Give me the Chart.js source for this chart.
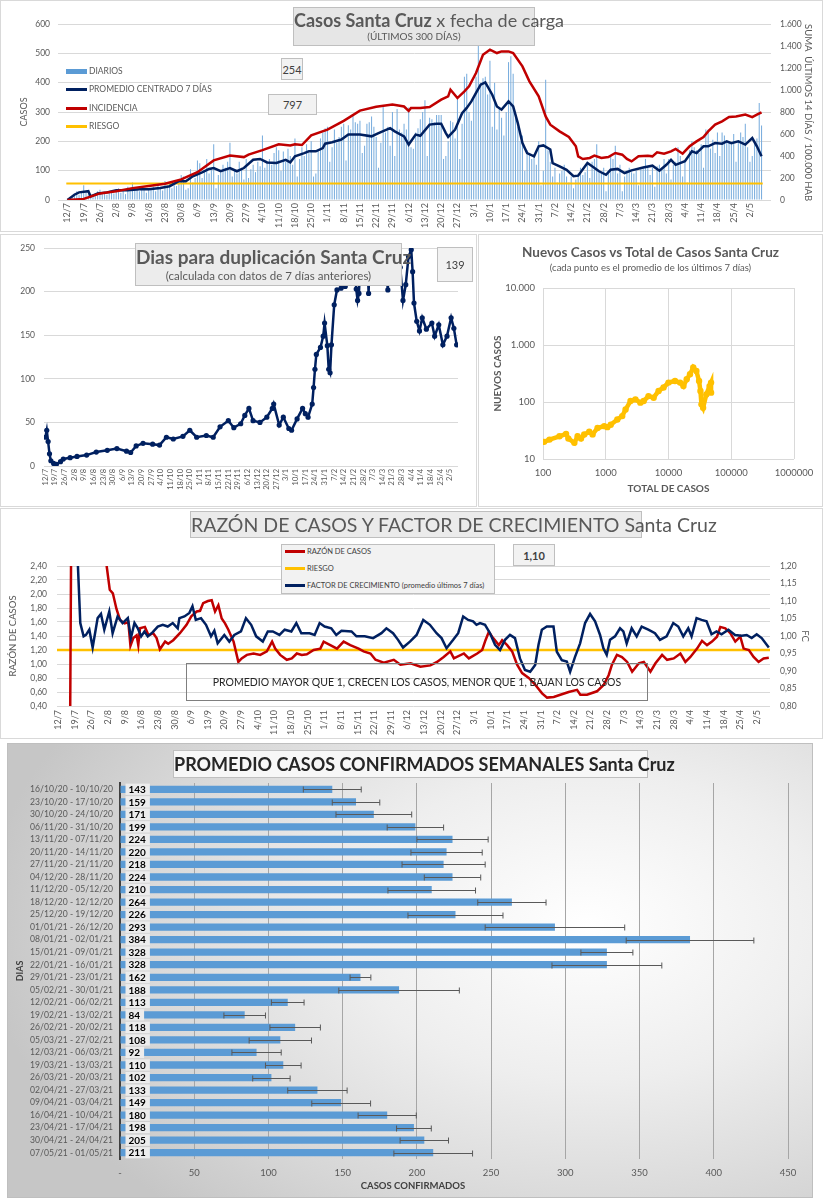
<!DOCTYPE html>
<html>
<head>
<meta charset="utf-8">
<script src="https://cdn.jsdelivr.net/npm/chart.js@4.4.1/dist/chart.umd.min.js"></script>
<style>
body { margin: 0; background: #fff; font-family: Lato, sans-serif; }
#page { position: relative; width: 823px; height: 1200px; overflow: hidden; }
.panel { position: absolute; box-sizing: border-box; border: 1px solid #d9d9d9; }
canvas { position: absolute; }
.box { position: absolute; box-sizing: border-box; background: #f2f2f2; border: 1px solid #bfbfbf; color: #404040;
       text-align: center; display: flex; flex-direction: column; justify-content: center; white-space: nowrap; }
.leg { position: absolute; font-size: 8.5px; color: #595959; display: flex; align-items: center; white-space: nowrap; height: 10px; }
.leg i { display: inline-block; width: 21px; height: 3px; margin-right: 2px; }
.txt { position: absolute; white-space: nowrap; color: #595959; text-align: center; }
</style>
</head>
<body>
<div id="page">
  <div class="panel" style="left:0;top:0;width:823px;height:232px"></div>
  <div class="panel" style="left:0;top:234px;width:477px;height:273px"></div>
  <div class="panel" style="left:478px;top:234px;width:345px;height:273px"></div>
  <div class="panel" style="left:0;top:508px;width:823px;height:231px"></div>
  <div class="panel" style="left:7px;top:743px;width:806px;height:455px;border-color:#bfbfbf;
       background:radial-gradient(ellipse 75% 85% at 72% 40%, #ffffff 0%, #eeeeee 40%, #d6d6d6 78%, #c6c6c6 100%)"></div>

  <canvas id="c1" width="823" height="231" style="left:0;top:0"></canvas>
  <canvas id="c2" width="476" height="272" style="left:0;top:234px"></canvas>
  <canvas id="c3" width="345" height="272" style="left:478px;top:234px"></canvas>
  <canvas id="c4" width="823" height="230" style="left:0;top:508px"></canvas>
  <canvas id="c5" width="823" height="460" style="left:0;top:740px"></canvas>

  <!-- grafico 1 -->
  <div class="box" style="left:293px;top:7px;width:242px;height:39px;background:#e6e6e6;color:#595959">
    <div style="font-size:18px;line-height:20px"><b>Casos Santa Cruz</b> x fecha de carga</div>
    <div style="font-size:10px;line-height:13px">(ÚLTIMOS 300 DÍAS)</div>
  </div>
  <div class="box" style="left:281px;top:58px;width:22px;height:22px;font-size:11px">254</div>
  <div class="box" style="left:268px;top:94px;width:49px;height:21px;font-size:11px">797</div>
  <div class="leg" style="left:66px;top:66px"><i style="background:#5b9bd5;height:5px"></i>DIARIOS</div>
  <div class="leg" style="left:66px;top:84px"><i style="background:#002060"></i>PROMEDIO CENTRADO 7 DÍAS</div>
  <div class="leg" style="left:66px;top:103px"><i style="background:#c00000"></i>INCIDENCIA</div>
  <div class="leg" style="left:66px;top:121px"><i style="background:#ffc000"></i>RIESGO</div>

  <!-- grafico 2 -->
  <div class="box" style="left:135px;top:243px;width:267px;height:43px;background:#ececec;color:#595959">
    <div style="font-size:19px;line-height:22px;font-weight:bold">Dias para duplicación Santa Cruz</div>
    <div style="font-size:11.5px;line-height:15px">(calculada con datos de 7 días anteriores)</div>
  </div>
  <div class="box" style="left:437px;top:247px;width:36px;height:35px;font-size:11px">139</div>

  <!-- grafico 3 -->
  <div class="txt" style="left:478px;top:244px;width:345px;font-size:13.5px;font-weight:bold">Nuevos Casos vs Total de Casos Santa Cruz</div>
  <div class="txt" style="left:478px;top:262px;width:345px;font-size:9.5px">(cada punto es el promedio de los últimos 7 días)</div>

  <!-- grafico 4 -->
  <div class="box" style="left:190px;top:511px;width:452px;height:27px;background:#ebebeb;color:#595959;font-size:19.5px">RAZÓN DE CASOS Y FACTOR DE CRECIMIENTO Santa Cruz</div>
  <div class="box" style="left:513px;top:544px;width:42px;height:22px;font-size:11px;font-weight:bold">1,10</div>
  <div class="box" style="left:281px;top:544px;width:214px;height:50px;background:#f2f2f2"></div>
  <div class="leg" style="left:285px;top:546px;font-size:7.5px;color:#404040"><i style="background:#c00000;width:20px"></i>RAZÓN DE CASOS</div>
  <div class="leg" style="left:285px;top:563px;font-size:7.5px;color:#404040"><i style="background:#ffc000;width:20px"></i>RIESGO</div>
  <div class="leg" style="left:285px;top:580px;font-size:7.5px;color:#404040"><i style="background:#002060;width:20px"></i>FACTOR DE CRECIMIENTO (promedio últimos 7 días)</div>
  <div class="box" style="left:186px;top:663px;width:462px;height:38px;background:transparent;border-color:#7f7f7f;color:#262626;font-size:10.5px">PROMEDIO MAYOR QUE 1, CRECEN LOS CASOS, MENOR QUE 1, BAJAN LOS CASOS</div>

  <!-- grafico 5 -->
  <div class="box" style="left:173px;top:750px;width:475px;height:28px;background:#f7f7f7;color:#262626;font-size:18px;font-weight:bold">PROMEDIO CASOS CONFIRMADOS SEMANALES Santa Cruz</div>
  <div class="txt" style="left:313px;top:1180px;width:200px;font-size:9.5px;font-weight:bold;color:#404040">CASOS CONFIRMADOS</div>
</div>

<script>
// etiquetas del eje de fechas (cada 7 días desde el 12/7)
const semanas = ['12/7','19/7','26/7','2/8','9/8','16/8','23/8','30/8','6/9','13/9','20/9','27/9','4/10','11/10',
  '18/10','25/10','1/11','8/11','15/11','22/11','29/11','6/12','13/12','20/12','27/12','3/1','10/1','17/1','24/1',
  '31/1','7/2','14/2','21/2','28/2','7/3','14/3','21/3','28/3','4/4','11/4','18/4','25/4','2/5'];

// casos diarios (300 días)
const diarios = [
  2,8,14,22,30,18,25, 50,28,20,10,15,22,30, 35,20,25,18,30,28,22, 30,40,25,35,20,45,30,
  60,35,40,30,38,42,25, 40,35,45,30,50,38,32, 65,45,55,40,50,48,60, 85,80,35,40,105,60,75,
  135,125,75,100,140,90,110, 190,40,85,95,120,110,130, 195,80,100,90,130,110,70, 140,75,105,120,95,130,115,
  220,110,130,140,120,160,180, 170,100,165,130,175,150,120, 210,80,140,180,150,190,160, 200,80,90,170,210,230,245,
  250,130,180,240,195,215,250, 260,135,255,240,290,265,260, 270,160,185,260,265,285,250, 215,110,195,320,230,250,185,
  300,150,310,240,230,260,240, 315,180,175,230,245,275,300, 340,150,280,275,265,290,290, 290,140,150,200,270,265,210,
  350,140,260,420,430,300,270, 350,420,525,400,415,420,360, 475,250,400,240,310,280,220, 300,470,490,430,300,250,200,
  220,100,170,160,140,150,120, 200,50,100,410,170,130,80, 110,60,90,100,120,80,60, 80,40,70,90,110,85,95,
  120,75,130,140,190,100,90, 110,30,100,150,140,185,90, 120,30,80,100,110,95,90, 100,50,110,110,140,110,85,
  110,45,115,120,110,140,90, 140,70,120,130,180,150,80, 130,60,170,200,180,170,160, 190,110,240,240,175,205,160,
  230,150,230,220,200,200,190, 225,130,200,230,215,260,180, 130,150,200,210,331,254
];

// [día, valor]
const promedio7 = [[0,0],[3,18],[5,26],[9,30],[10,12],[13,22],[17,26],[21,33],[26,33],[31,37],[35,37],[40,41],[44,47],
  [48,64],[51,64],[54,81],[58,94],[61,106],[63,109],[66,98],[70,109],[73,98],[76,109],[80,137],[83,140],[86,128],[90,126],
  [94,137],[96,128],[98,149],[102,160],[104,166],[107,166],[110,177],[111,192],[114,197],[118,206],[121,223],[126,223],
  [131,217],[134,228],[139,245],[141,234],[145,217],[147,189],[150,223],[152,219],[156,257],[159,260],[161,260],[163,228],
  [164,215],[167,240],[170,296],[172,314],[174,336],[176,365],[178,393],[180,401],[183,359],[185,319],[187,308],[190,336],
  [192,319],[194,262],[196,194],[198,160],[201,149],[203,183],[205,186],[208,172],[209,126],[212,115],[215,103],[218,81],
  [220,83],[224,126],[226,115],[229,98],[232,86],[234,103],[237,106],[240,92],[243,101],[248,111],[252,117],[255,100],
  [258,120],[260,137],[262,120],[266,132],[269,166],[271,160],[274,183],[276,183],[279,194],[282,192],[284,200],[286,194],
  [289,200],[292,189],[295,211],[297,183],[299,149]];

const incidencia = [[0,0],[7,10],[14,60],[21,80],[28,108],[35,128],[42,147],[49,187],[56,253],[63,360],[70,405],[76,390],
  [78,413],[84,453],[91,507],[96,495],[98,507],[101,500],[105,587],[112,640],[119,720],[126,813],[133,848],[140,867],
  [145,850],[147,810],[148,836],[152,836],[156,845],[161,912],[164,942],[165,1003],[168,927],[171,988],[173,1033],
  [176,1154],[179,1321],[182,1367],[185,1336],[187,1351],[190,1351],[192,1336],[196,1215],[199,1079],[203,942],[206,760],
  [208,685],[212,624],[216,573],[219,488],[220,397],[222,373],[225,382],[227,403],[230,382],[233,391],[236,427],[239,412],
  [241,373],[243,351],[246,397],[250,403],[252,397],[254,433],[257,421],[260,442],[262,464],[265,421],[268,488],[271,533],
  [274,573],[276,624],[279,685],[282,715],[285,754],[288,760],[292,776],[295,754],[297,776],[299,797]];
const riesgoIncidencia = 150;

const duplicacion = [[0,33],[1,41],[2,28],[3,14],[4,6],[6,3],[8,2],[11,5],[13,8],[18,9.5],[23,11],[30,12.5],[37,16],
  [45,18],[52,20],[59,17],[62,15.5],[66,23],[71,26],[78,25],[83,24],[88,33],[93,31],[100,34],[105,41],[110,33],[117,35],
  [122,33],[127,45],[133,52],[137,44],[142,48.5],[145,58],[148,66],[151,52],[156,50],[161,56],[165,66],[166,71],[170,47],
  [173,56],[177,43],[179,41],[183,54],[187,66],[189,60],[191,56],[194,71],[195,90],[196,111],[197,128],[200,136],[202,149],
  [203,164],[205,138],[206,111],[207,107],[208,139],[210,185],[212,202],[215,204],[218,206],[221,290],[224,270],[226,203],
  [227,190],[228,198],[230,280],[233,300],[235,198],[236,260],[240,290],[245,280],[249,202],[250,290],[254,300],[257,260],
  [258,228],[260,190],[262,208],[264,240],[266,248],[267,223],[268,187],[270,166],[272,155],[274,170],[277,157],[281,164],
  [283,149],[286,162],[289,139],[292,149],[295,170],[297,158],[299,139]];

// nuevos vs total (promedio 7 días)
const totalCasos = [104,127,183,233,254,316,356,403,454,546,617,740,946,1060,1200,1530,1830,2070,2480,2970,3560,4020,
  4800,5800,6950,8340,10000,12700,15300,17300,19500,22000,24800,27800,30700,32300,33500,35600,40000,45100,47700,47700];
const nuevosCasos = [20,21.9,25,27.6,22.8,19.2,25,22.8,26.9,30,27,35,37.7,36.2,40,49.4,56.6,74,104,111,97.5,104,127,
  119,156,180,219,234,219,190,250,308,404,350,234,156,91,79,136,190,219,146];

const razonCasos = [[5,0],[6,6],[19,3],[20.4,2.4],[21.7,2.06],[23,2.01],[24.5,1.79],[26,1.63],[28,1.58],[29.5,1.6],
  [30.4,1.26],[31.6,1.37],[33,1.41],[33.7,1.27],[34.4,1.51],[36.5,1.53],[38,1.41],[40,1.44],[41.4,1.37],[42.8,1.21],
  [45,1.32],[46.3,1.29],[48.4,1.34],[51.2,1.44],[54,1.56],[56,1.68],[58.3,1.75],[59.7,1.76],[61,1.87],[63,1.9],[64.6,1.91],
  [66,1.75],[67.4,1.84],[68.8,1.65],[70.2,1.58],[71.6,1.49],[73.8,1.32],[75.8,1.03],[77.2,1.08],[79.4,1.13],[82.2,1.15],
  [85,1.13],[87.8,1.18],[90,1.32],[91.3,1.22],[93.4,1.13],[96.2,1.06],[98.3,1.08],[100.4,1.15],[102.5,1.13],[104.6,1.14],
  [107.5,1.2],[110.3,1.22],[111.7,1.32],[114.5,1.27],[117.3,1.22],[120.1,1.32],[122.9,1.27],[126.4,1.22],[128.5,1.18],
  [131.4,1.15],[133.5,1.06],[137,1.02],[141.2,1.06],[144,0.99],[148.3,1.01],[152.4,0.96],[156.6,0.98],[159.4,1.03],
  [162.2,1.1],[165,1.18],[166.5,1.08],[170.7,1.15],[172.8,1.08],[176.3,1.15],[178.4,1.2],[179.8,1.34],[181.2,1.46],
  [182.6,1.39],[185.4,1.27],[186.8,1.34],[188.9,1.27],[191,1.18],[193.1,0.99],[195.2,0.87],[198,0.8],[200.8,0.7],
  [203.6,0.58],[205.7,0.52],[208.5,0.53],[211.3,0.56],[214.8,0.6],[218.3,0.63],[219.7,0.56],[222.5,0.56],[226.7,0.61],
  [229.5,0.7],[231.6,0.84],[233,0.99],[235.1,1.13],[237.2,1.1],[239.4,1.03],[241.5,0.89],[244.3,1.01],[246.4,1.03],
  [249.2,0.89],[251.3,1.01],[254.1,1.13],[256.2,1.06],[259,1.08],[261.8,1.15],[263.9,1.03],[266,1.1],[268.8,1.22],
  [270.9,1.33],[273,1.27],[275.1,1.32],[277.2,1.39],[278.6,1.53],[280.7,1.51],[282.8,1.44],[284.9,1.32],[287,1.39],
  [288.4,1.22],[290.6,1.2],[292.6,1.1],[294.7,1.03],[296.8,1.08],[299,1.09]];

const factorCrecimiento = [[7,1.5],[8,1.25],[9.3,1.037],[10.7,0.999],[11.7,1.003],[13.1,1.018],[14.5,0.967],[16.6,1.051],
  [18,1.063],[19.4,1.018],[21.5,1.07],[22.9,1.008],[25,1.056],[27.1,1.037],[29.3,1.051],[30.6,0.994],[32.1,1.037],
  [33.5,1.022],[34.9,0.999],[36.3,1.013],[37.7,0.999],[39.8,1.011],[41.9,1.027],[44,1.032],[46.1,1.027],[48.2,1.037],
  [50.3,1.022],[51,1.051],[53.1,1.056],[55.2,1.066],[56.5,1.085],[57.9,1.046],[60.1,1.051],[62.2,1.032],[64.3,0.999],
  [65.7,1.015],[67.1,0.979],[69.9,1.003],[72,0.984],[74.1,1.003],[76.9,1.013],[79,1.051],[81.2,1.032],[83.3,0.999],
  [86.1,0.984],[88.2,1.013],[90.3,1.013],[93.1,1.003],[95.3,1.018],[98.1,1.013],[100.2,1.037],[102.3,1.008],[105.8,1.008],
  [107.9,1.003],[110,1.037],[112.1,1.027],[114.9,1.022],[117,1.003],[119.2,1.015],[123.4,1.013],[125.5,0.999],[129,0.999],
  [132.5,0.994],[136,1.008],[138.1,1.022],[140.9,1.008],[143,0.989],[145.1,0.967],[148,0.984],[150.8,1.003],[153.6,1.046],
  [156.4,1.032],[159.2,1.008],[161.3,0.994],[163.4,0.965],[166.2,0.989],[168.3,1.008],[170.4,1.056],[172.5,1.046],
  [174.6,1.042],[176,1.032],[177.5,1.037],[179.6,1.032],[181.7,1.008],[183.8,0.975],[185.9,0.96],[188,0.989],[190.1,1.003],
  [192.2,0.994],[194.3,0.936],[196.4,0.903],[198.6,0.898],[200.7,0.917],[202.1,0.975],[203.5,1.018],[205.6,1.027],
  [208.4,1.027],[209.8,0.955],[211.9,0.931],[214,0.927],[215.4,0.898],[217.5,0.941],[219.6,0.979],[221.7,1.037],
  [223.8,1.063],[225.9,1.042],[228,1.003],[229.4,0.965],[230.8,0.946],[232.2,0.989],[234.3,0.999],[236.4,1.022],
  [237.8,1.013],[239.2,0.979],[241.3,1.022],[243.4,0.999],[245.5,1.027],[248.3,1.018],[251.1,1.008],[253.2,0.989],
  [256,0.999],[258.8,1.037],[260.9,1.027],[263,0.999],[265.1,1.022],[266.5,0.999],[268.6,1.051],[270.7,1.046],[272.8,1.042],
  [274.9,1.005],[277,1.013],[279.1,1.005],[282,1.018],[284.8,1.003],[287.6,1.001],[289.7,1.003],[291.8,0.994],[293.9,1.005],
  [296,0.994],[299,0.967]];
const riesgoRazon = 1.2;

// promedio semanal
const rangos = ['16/10/20 - 10/10/20','23/10/20 - 17/10/20','30/10/20 - 24/10/20','06/11/20 - 31/10/20',
  '13/11/20 - 07/11/20','20/11/20 - 14/11/20','27/11/20 - 21/11/20','04/12/20 - 28/11/20','11/12/20 - 05/12/20',
  '18/12/20 - 12/12/20','25/12/20 - 19/12/20','01/01/21 - 26/12/20','08/01/21 - 02/01/21','15/01/21 - 09/01/21',
  '22/01/21 - 16/01/21','29/01/21 - 23/01/21','05/02/21 - 30/01/21','12/02/21 - 06/02/21','19/02/21 - 13/02/21',
  '26/02/21 - 20/02/21','05/03/21 - 27/02/21','12/03/21 - 06/03/21','19/03/21 - 13/03/21','26/03/21 - 20/03/21',
  '02/04/21 - 27/03/21','09/04/21 - 03/04/21','16/04/21 - 10/04/21','23/04/21 - 17/04/21','30/04/21 - 24/04/21',
  '07/05/21 - 01/05/21'];
const promedioSemanal = [143,159,171,199,224,220,218,224,210,264,226,293,384,328,328,162,188,113,84,118,108,92,110,102,
  133,149,180,198,205,211];
const desvioSemanal = [19.5,16,25.5,19,24,24,28,19,29.5,23,32,47,43,17.5,37,7,40.6,11,14,17,21,16.6,12,12.6,20,19.8,
  19.6,11.7,16.3,26.5];

Chart.defaults.font.family = 'Lato, sans-serif';
Chart.defaults.color = '#595959';
Chart.defaults.animation = false;
Chart.defaults.plugins.legend.display = false;
Chart.defaults.plugins.tooltip.enabled = false;

const xy = arr => arr.map(p => ({x: p[0], y: p[1]}));
const fixW = w => s => { s.width = w; };
const fixH = h => s => { s.height = h; };
const dayTicks = s => { s.ticks = semanas.map((l, i) => ({value: i * 7})); };
const coma = d => v => v.toFixed(d).replace('.', ',');
const miles = v => String(Math.round(v)).replace(/\B(?=(\d{3})+(?!\d))/g, '.');
const grid = {color: '#d9d9d9', drawTicks: false};
const noGrid = {display: false, drawTicks: false};

// Casos x fecha de carga
new Chart(document.getElementById('c1'), {
    data: {
        datasets: [
            {type: 'line', data: xy(incidencia), yAxisID: 'y2', borderColor: '#c00000', borderWidth: 2.5, pointRadius: 0, order: 1},
            {type: 'line', data: xy(promedio7), yAxisID: 'y', borderColor: '#002060', borderWidth: 2.5, pointRadius: 0, order: 2},
            {type: 'line', data: [{x: -0.5, y: riesgoIncidencia}, {x: 299.5, y: riesgoIncidencia}], yAxisID: 'y2',
             borderColor: '#ffc000', borderWidth: 2, pointRadius: 0, order: 3},
            {type: 'bar', data: diarios.map((v, i) => ({x: i, y: v})), yAxisID: 'y', backgroundColor: '#7aaede',
             barPercentage: 0.45, categoryPercentage: 1, order: 4}
        ]
    },
    options: {
        responsive: false,
        layout: {padding: {top: 24}},
        scales: {
            x: {type: 'linear', min: -0.5, max: 299.5, afterBuildTicks: dayTicks, afterFit: fixH(31),
                grid: noGrid, border: {display: false},
                ticks: {autoSkip: false, minRotation: 90, maxRotation: 90, padding: 3, font: {size: 9},
                        callback: (v, i) => semanas[i]}},
            y: {min: 0, max: 600, afterFit: fixW(58), grid: grid, border: {display: false},
                ticks: {stepSize: 100, padding: 8, font: {size: 8.5}},
                title: {display: true, text: 'CASOS', font: {size: 9}, padding: {top: 19}}},
            y2: {position: 'right', min: 0, max: 1600, afterFit: fixW(52), grid: noGrid, border: {display: false},
                 ticks: {stepSize: 200, padding: 9, font: {size: 8.5}, callback: miles},
                 title: {display: true, text: 'SUMA  ÚLTIMOS 14 DÍAS / 100.000 HAB', align: 'end', font: {size: 9.5}, padding: {top: 9}}}
        }
    }
});

// Dias para duplicacion
new Chart(document.getElementById('c2'), {
    type: 'line',
    data: {
        datasets: [{data: xy(duplicacion), borderColor: '#002060', backgroundColor: '#002060', borderWidth: 2.5,
                    pointRadius: 2.6, pointBorderWidth: 0}]
    },
    options: {
        responsive: false,
        layout: {padding: {top: 12, right: 18}},
        scales: {
            x: {type: 'linear', min: -1, max: 300, afterBuildTicks: dayTicks, afterFit: fixH(40),
                grid: noGrid, border: {display: false},
                ticks: {autoSkip: false, minRotation: 90, maxRotation: 90, padding: 3, font: {size: 7.5},
                        callback: (v, i) => semanas[i]}},
            y: {min: 0, max: 250, afterFit: fixW(44), grid: grid, border: {display: false},
                ticks: {stepSize: 50, padding: 9, font: {size: 8.5}}}
        }
    }
});

// Nuevos vs total (log-log)
new Chart(document.getElementById('c3'), {
    type: 'scatter',
    data: {
        datasets: [{data: totalCasos.map((t, i) => ({x: t, y: nuevosCasos[i]})), borderColor: '#ffc000',
                    backgroundColor: '#ffc000', showLine: true, borderWidth: 4.5, pointRadius: 3.2, pointBorderWidth: 0}]
    },
    options: {
        responsive: false,
        layout: {padding: {top: 54, right: 29}},
        scales: {
            x: {type: 'logarithmic', min: 100, max: 1000000, afterFit: fixH(47), grid: grid, border: {display: false},
                afterBuildTicks: s => { s.ticks = [100, 1000, 10000, 100000, 1000000].map(v => ({value: v})); },
                ticks: {padding: 8, font: {size: 9.5}, callback: v => String(v)},
                title: {display: true, text: 'TOTAL DE CASOS', font: {size: 10, weight: 'bold'}, padding: {bottom: 11}}},
            y: {type: 'logarithmic', min: 10, max: 10000, afterFit: fixW(65), grid: grid, border: {display: false},
                afterBuildTicks: s => { s.ticks = [10, 100, 1000, 10000].map(v => ({value: v})); },
                ticks: {padding: 8, font: {size: 9.5}, callback: miles},
                title: {display: true, text: 'NUEVOS CASOS', font: {size: 10, weight: 'bold'}, padding: {top: 14}}}
        }
    }
});

// Razon de casos y factor de crecimiento
new Chart(document.getElementById('c4'), {
    type: 'line',
    data: {
        datasets: [
            {data: xy(factorCrecimiento), yAxisID: 'y2', borderColor: '#002060', borderWidth: 2.5, pointRadius: 0, order: 1},
            {data: xy(razonCasos), yAxisID: 'y', borderColor: '#c00000', borderWidth: 2.5, pointRadius: 0, order: 2},
            {data: [{x: -0.5, y: riesgoRazon}, {x: 299.5, y: riesgoRazon}], yAxisID: 'y', borderColor: '#ffc000',
             borderWidth: 2.5, pointRadius: 0, order: 3}
        ]
    },
    options: {
        responsive: false,
        layout: {padding: {top: 58}},
        scales: {
            x: {type: 'linear', min: -0.5, max: 299.5, afterBuildTicks: dayTicks, afterFit: fixH(32),
                grid: noGrid, border: {display: false},
                ticks: {autoSkip: false, minRotation: 90, maxRotation: 90, padding: 4, font: {size: 9},
                        callback: (v, i) => semanas[i]}},
            y: {min: 0.4, max: 2.4, afterFit: fixW(57), grid: grid, border: {display: false},
                ticks: {stepSize: 0.2, padding: 10, font: {size: 8.5}, callback: coma(2)},
                title: {display: true, text: 'RAZÓN DE CASOS', font: {size: 9.5}, padding: {top: 7}}},
            y2: {position: 'right', min: 0.8, max: 1.2, afterFit: fixW(53), grid: noGrid, border: {display: false},
                 ticks: {stepSize: 0.05, padding: 10, font: {size: 8.5}, callback: coma(2)},
                 title: {display: true, text: 'FC', font: {size: 9.5}, padding: {top: 12}}}
        }
    }
});

// etiquetas de valor y barras de error
const valoresYErrores = {
    id: 'valoresYErrores',
    afterDatasetsDraw(chart) {
        const ctx = chart.ctx;
        const xs = chart.scales.x;
        const bars = chart.getDatasetMeta(0).data;
        ctx.save();
        ctx.strokeStyle = '#595959';
        ctx.lineWidth = 1;
        bars.forEach((bar, i) => {
            const lo = xs.getPixelForValue(promedioSemanal[i] - desvioSemanal[i]);
            const hi = xs.getPixelForValue(promedioSemanal[i] + desvioSemanal[i]);
            const y = Math.round(bar.y) + 0.5;
            ctx.beginPath();
            ctx.moveTo(lo, y); ctx.lineTo(hi, y);
            ctx.moveTo(lo, y - 3); ctx.lineTo(lo, y + 3);
            ctx.moveTo(hi, y - 3); ctx.lineTo(hi, y + 3);
            ctx.stroke();
        });
        ctx.font = 'bold 10px Lato, sans-serif';
        ctx.textBaseline = 'middle';
        bars.forEach((bar, i) => {
            const txt = String(promedioSemanal[i]);
            const w = ctx.measureText(txt).width;
            const x0 = bar.base + 5;
            ctx.fillStyle = '#ececec';
            ctx.fillRect(x0, bar.y - bar.height / 2 - 2, w + 7, bar.height + 4);
            ctx.fillStyle = '#000';
            ctx.fillText(txt, x0 + 3, bar.y + 0.5);
        });
        ctx.restore();
    }
};

new Chart(document.getElementById('c5'), {
    type: 'bar',
    data: {
        labels: rangos,
        datasets: [{data: promedioSemanal, backgroundColor: '#5b9bd5', barPercentage: 0.58, categoryPercentage: 1}]
    },
    options: {
        responsive: false,
        indexAxis: 'y',
        layout: {padding: {top: 43, right: 35}},
        scales: {
            x: {min: 0, max: 450, afterFit: fixH(41), grid: {color: '#a6a6a6', drawTicks: false}, border: {display: false},
                ticks: {stepSize: 50, padding: 8, font: {size: 9.5}, callback: v => v === 0 ? '-' : v}},
            y: {afterFit: fixW(120), grid: noGrid, border: {color: '#404040', width: 2},
                ticks: {autoSkip: false, padding: 7, font: {size: 8.6}},
                title: {display: true, text: 'DIAS', font: {size: 9, weight: 'bold'}, color: '#404040', padding: {top: 15}}}
        }
    },
    plugins: [valoresYErrores]
});
</script>
</body>
</html>
